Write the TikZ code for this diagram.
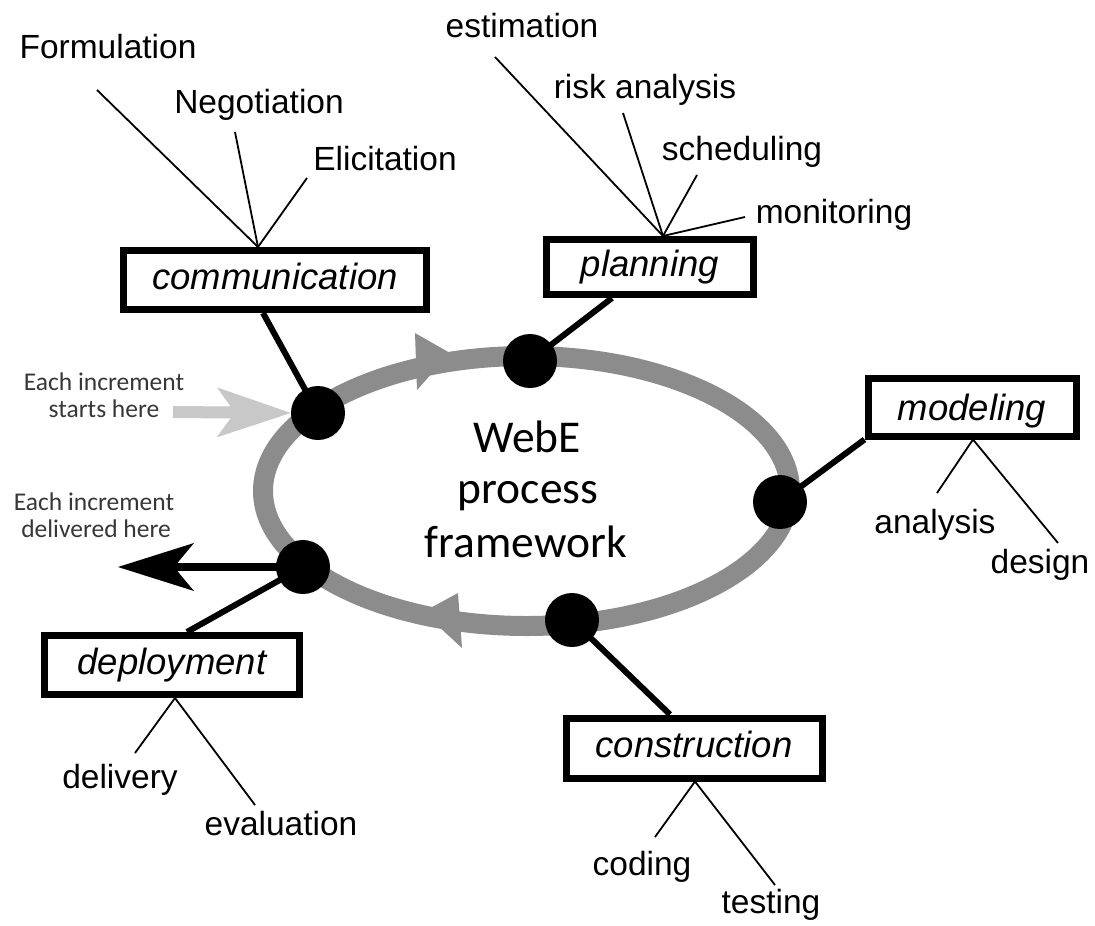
\documentclass[tikz,border=0pt]{standalone}
\usepackage{fontspec}
\setmainfont{Liberation Sans}
\newfontfamily\carl{Carlito}
\usetikzlibrary{arrows.meta,calc}
\definecolor{ring}{RGB}{140,140,140}
\definecolor{lightarr}{RGB}{200,200,200}
\definecolor{notegray}{RGB}{55,55,55}
\tikzset{
 phase/.style={draw=black, line width=7pt, fill=white, inner sep=0pt, text height=27pt, text depth=8pt, font=\fontsize{36.5}{40}\selectfont\itshape},
 lbl/.style={anchor=base, inner sep=0pt, font=\fontsize{33.5}{36}\selectfont},
 twig/.style={line width=1.8pt},
 link/.style={line width=6pt},
 dot/.style={circle, fill=black, minimum size=54pt, inner sep=0pt},
 note/.style={anchor=base, inner sep=0pt, text=notegray, font=\carl\fontsize{25.5}{27}\selectfont},
 core/.style={anchor=base, inner sep=0pt, font=\carl\fontsize{45.5}{52}\selectfont},
}
\begin{document}
\begin{tikzpicture}[x=1pt,y=-1pt]
\useasboundingbox (0,0) rectangle (1095,926);
% ring
\draw[ring, line width=20pt] (526.5,491) ellipse [x radius=263.5pt, y radius=135pt];
\fill[ring] (415,333) -- (450,353) -- (417,390) -- cycle;
\fill[ring] (423,612) -- (458,593) -- (462,648) -- cycle;
% centre text
\node[core] (c1) at (527,452) {WebE};
\node[core] (c2) at (528,503.5) {process};
\node[core] (c3) at (526,557) {framework};
% phase boxes
\node[phase, minimum width=303pt, minimum height=59pt] (comm) at (275,280) {communication};
\node[phase, minimum width=207pt, minimum height=55pt] (plan) at (650,267) {planning};
\node[phase, minimum width=208pt, minimum height=58pt] (model) at (972,407) {\raisebox{-4pt}{modeling}};
\node[phase, minimum width=255pt, minimum height=59pt] (deploy) at (172,665) {deployment};
\node[phase, minimum width=256pt, minimum height=60pt] (constr) at (694,748) {construction};
% dots
\node[dot] (d1) at (318,413) {};
\node[dot] (d2) at (530,361) {};
\node[dot] (d3) at (780,502) {};
\node[dot] (d4) at (572,620) {};
\node[dot] (d5) at (303,567) {};
% links dot -> box
\draw[link] (d1.center) -- ($(comm.south)+(-12,0)$);
\draw[link] (d2.center) -- ($(plan.south)+(-38,0)$);
\draw[link] (d3.center) -- (model.south west);
\draw[link] (d5.center) -- ($(deploy.north)+(15,0)$);
\draw[link] (d4.center) -- ($(constr.north)+(-24,0)$);
% increment arrows
\coordinate (sfrom) at (173,412);
\coordinate (dtip) at (118,567);
\draw[lightarr, line width=12pt, -{Stealth[length=74pt,width=50pt,inset=18pt,line width=0pt]}] (sfrom) -- (d1.west);
\draw[black, line width=8pt, -{Stealth[length=76pt,width=48pt,inset=20pt,line width=0pt]}] (d5.center) -- (dtip);
\node[note] (n1a) at (104,390) {Each increment};
\node[note] (n1b) at (104,417) {starts here};
\node[note] (n2a) at (94,510) {Each increment};
\node[note] (n2b) at (96,537) {delivered here};
% labels
\node[lbl] (formu) at (108,58) {Formulation};
\node[lbl] (nego) at (259,113) {Negotiation};
\node[lbl] (elic) at (385,170) {Elicitation};
\node[lbl] (esti) at (522,37) {estimation};
\node[lbl] (risk) at (645,98) {risk analysis};
\node[lbl] (sched) at (742,160) {scheduling};
\node[lbl] (moni) at (834,223) {monitoring};
\node[lbl] (anal) at (935,533) {analysis};
\node[lbl] (desi) at (1040,573) {design};
\node[lbl] (deli) at (120,788) {delivery};
\node[lbl] (eval) at (281,835) {evaluation};
\node[lbl] (codi) at (642,875) {coding};
\node[lbl] (test) at (771,913) {testing};
% twig ends
\coordinate (formuE) at (97,90);
\coordinate (negoE) at (235,132);
\coordinate (elicE) at (307,178);
\coordinate (estiE) at (495,57);
\coordinate (riskE) at (623,113);
\coordinate (schedE) at (697,175);
\coordinate (moniE) at (745,217);
\coordinate (analE) at (937,493);
\coordinate (desiE) at (1058,543);
\coordinate (deliE) at (135,753);
\coordinate (evalE) at (255,805);
\coordinate (codiE) at (655,837);
\coordinate (testE) at (775,885);
\foreach \e in {formuE,negoE,elicE}{\draw[twig] (\e) -- ($(comm.north)+(-17,0)$);}
\foreach \e in {estiE,riskE,schedE,moniE}{\draw[twig] (\e) -- ($(plan.north)+(13,0)$);}
\foreach \e in {analE,desiE}{\draw[twig] (\e) -- ($(model.south)+(1,0)$);}
\foreach \e in {deliE,evalE}{\draw[twig] (\e) -- ($(deploy.south)+(3,0)$);}
\foreach \e in {codiE,testE}{\draw[twig] (\e) -- ($(constr.south)+(1,0)$);}
\end{tikzpicture}
\end{document}
